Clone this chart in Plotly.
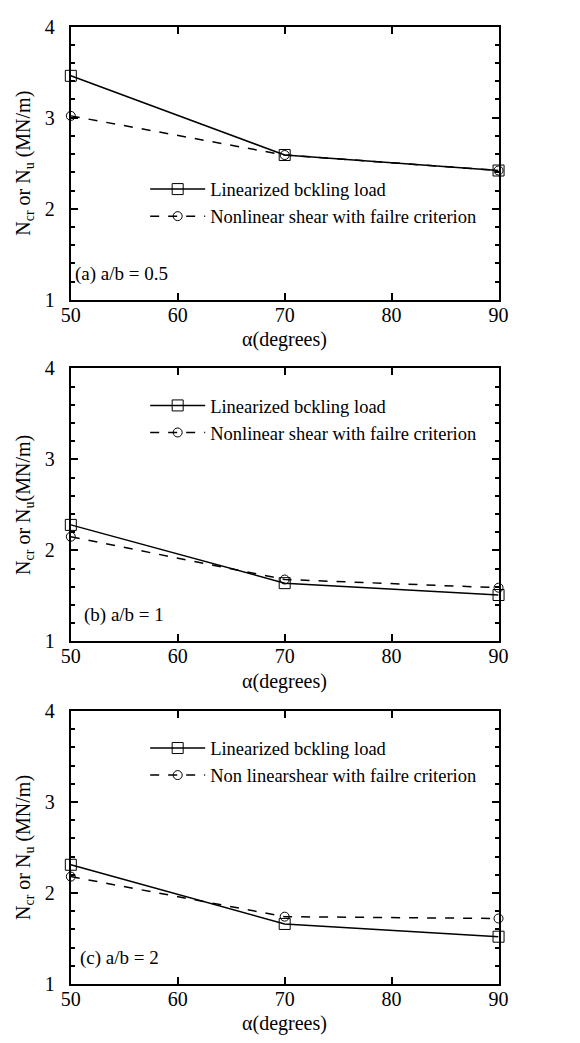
import plotly.graph_objects as go

W, H = 580, 1043

alpha = [50, 70, 90]
lin_a = [3.46, 2.59, 2.42]
non_a = [3.02, 2.59, 2.42]
lin_b = [2.28, 1.64, 1.51]
non_b = [2.15, 1.68, 1.59]
lin_c = [2.31, 1.66, 1.52]
non_c = [2.18, 1.74, 1.72]

panel_labels = ["(a) a/b = 0.5", "(b) a/b = 1", "(c) a/b = 2"]
lin_names = ["Linearized bckling load"] * 3
non_names = ["Nonlinear shear with failre criterion",
             "Nonlinear shear with failre criterion",
             "Non linearshear with failre criterion"]
ytitles = ["N<sub>cr</sub> or N<sub>u</sub> (MN/m)",
           "N<sub>cr</sub> or N<sub>u</sub>(MN/m)",
           "N<sub>cr</sub> or N<sub>u</sub> (MN/m)"]
xtitle = "\u03b1(degrees)"
x_ticks = [50, 60, 70, 80, 90]
y_ticks = [1, 2, 3, 4]

FONT = "Liberation Serif"
px_left, px_right = 63, 506
panels_px = [(16, 295), (365, 644), (715, 994)]
legend_top_px = [163, 384, 734]
label_x = [0.005, 0.025, 0.016]
xtitle_y = [-0.145, -0.145, -0.145]

fig = go.Figure()
series = [(lin_a, non_a), (lin_b, non_b), (lin_c, non_c)]
for i, (lin, non) in enumerate(series):
    sfx = "" if i == 0 else str(i + 1)
    leg = "legend" + sfx
    fig.add_trace(go.Scatter(
        x=alpha, y=lin, mode="lines+markers", name=lin_names[i],
        line=dict(color="black", width=1.5),
        marker=dict(symbol="square-open", size=11, color="black", line=dict(width=1)),
        xaxis="x" + sfx, yaxis="y" + sfx, legend=leg, legendgroup=f"lin{i}",
        cliponaxis=False))
    fig.add_trace(go.Scatter(
        x=alpha, y=non, mode="lines+markers", name=non_names[i],
        line=dict(color="black", width=1.5, dash="dash"),
        marker=dict(symbol="circle-open", size=9, color="black", line=dict(width=1)),
        xaxis="x" + sfx, yaxis="y" + sfx, legend=leg, legendgroup=f"non{i}",
        cliponaxis=False))

layout = dict(
    width=W, height=H,
    margin=dict(l=0, r=0, t=0, b=0),
    paper_bgcolor="white", plot_bgcolor="white",
    font=dict(family=FONT, color="black", size=20),
    annotations=[],
)
for i, (top, bot) in enumerate(panels_px):
    sfx = "" if i == 0 else str(i + 1)
    xdom = [px_left / W, px_right / W]
    ydom = [1 - bot / H, 1 - top / H]
    layout["xaxis" + sfx] = dict(
        domain=xdom, anchor="y" + sfx, range=[50, 90],
        tickvals=x_ticks, ticks="inside", ticklen=7, tickwidth=2, tickcolor="black",
        ticklabelstandoff=-4,
        showline=True, linecolor="black", linewidth=2, mirror="ticks",
        showgrid=False, zeroline=False,
        tickfont=dict(family=FONT, size=20),
    )
    layout["yaxis" + sfx] = dict(
        domain=ydom, anchor="x" + sfx, range=[1, 4],
        tickvals=y_ticks, ticks="inside", ticklen=7, tickwidth=2, tickcolor="black",
        ticklabelstandoff=10,
        minor=dict(ticks="inside", ticklen=4, tickwidth=2, tickcolor="black", dtick=0.2, showgrid=False),
        showline=True, linecolor="black", linewidth=2, mirror="ticks",
        showgrid=False, zeroline=False,
        tickfont=dict(family=FONT, size=20),
        title=dict(text=ytitles[i], font=dict(family=FONT, size=20), standoff=9),
    )
    layout["legend" + sfx] = dict(
        x=140 / W, y=1 - legend_top_px[i] / H, xanchor="left", yanchor="top",
        bgcolor="rgba(0,0,0,0)", borderwidth=0,
        font=dict(family=FONT, size=18.5, color="black"),
        itemwidth=55, traceorder="grouped", tracegroupgap=0,
    )
    layout["annotations"].append(dict(
        text=panel_labels[i], xref="x" + sfx + " domain", yref="y" + sfx + " domain",
        x=label_x[i], y=0.095, xanchor="left", yanchor="middle", showarrow=False,
        font=dict(family=FONT, size=19, color="black")))
    layout["annotations"].append(dict(
        text=xtitle, xref="x" + sfx + " domain", yref="y" + sfx + " domain",
        x=0.5, y=xtitle_y[i], xanchor="center", yanchor="middle", showarrow=False,
        font=dict(family=FONT, size=20, color="black")))

fig.update_layout(**layout)
fig.write_html("out.html")
